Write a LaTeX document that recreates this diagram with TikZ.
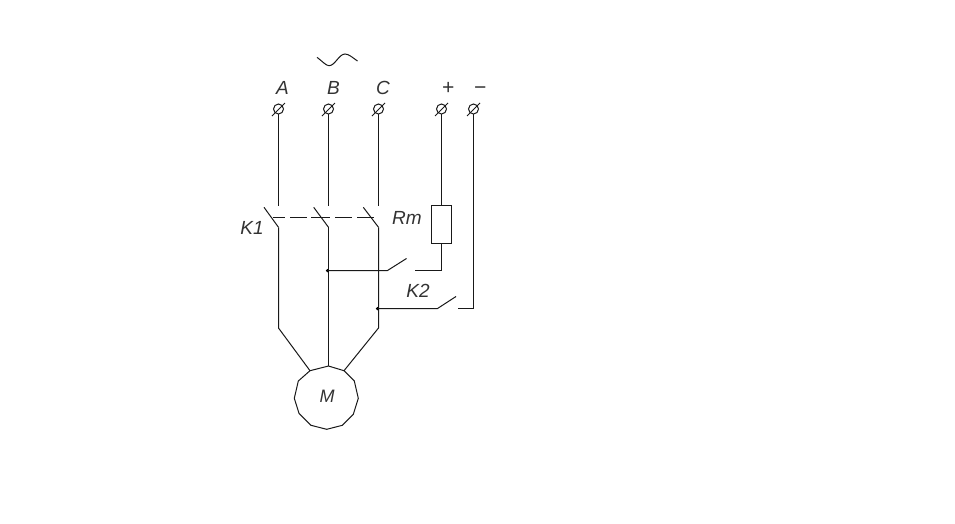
\documentclass[tikz,border=0pt]{standalone}
\usepackage{fontspec}
\setmainfont{Liberation Sans}
\usetikzlibrary{shapes.geometric,positioning,calc}
\tikzset{
    wire/.style={line width=1pt,black!90},
    term/.style={circle,draw,line width=1pt,black!90,inner sep=0pt,outer sep=0pt,minimum size=10pt},
    lbl/.style={font=\fontsize{19}{19}\selectfont\itshape,text=black!80,inner sep=0pt},
    dot/.style={circle,fill=black,inner sep=0pt,minimum size=3.5pt}
}
\begin{document}
\begin{tikzpicture}[x=1pt,y=-1pt]
    \useasboundingbox (0,0) rectangle (955,523);

    % Terminals
    \node[term] (termA) at (278.5,109) {};
    \node[term] (termB) at (328.5,109) {};
    \node[term] (termC) at (378.5,109) {};
    \node[term] (termP) at (441.5,109) {};
    \node[term] (termN) at (473.5,109) {};
    \foreach \t in {termA,termB,termC,termP,termN}
        \draw[wire] ($(\t)+(-6.5,7)$) -- ($(\t)+(6.5,-6)$);

    % Labels
    \node[lbl] (labA) at (282.5,88) {A};
    \node[lbl] (labB) at (333.5,88) {B};
    \node[lbl] (labC) at (383,88) {C};
    \node[lbl,font=\fontsize{21}{21}\selectfont\itshape] (labP) at (448,88) {+};
    \node[lbl,font=\fontsize{21}{21}\selectfont\itshape] (labN) at (480,91) {−};
    \node[lbl] (labK1) at (252,228) {K1};
    \node[lbl] (labRm) at (407,218) {Rm};
    \node[lbl] (labK2) at (418,291) {K2};

    % Mains sign
    \draw[wire] (317,57.3) .. controls (322,61) and (326,65.7) .. (329,65.7)
        .. controls (335,65.7) and (339,54) .. (345,54)
        .. controls (349,54) and (353,58) .. (357.5,61);

    % Motor
    \draw[wire] (328.5,366) coordinate (motB) -- (344,370.7) coordinate (motC) -- (354.3,381)
        -- (358.3,398.3) -- (353.3,414.3) -- (342.3,425.3) -- (326.7,429.3) -- (311,425.3)
        -- (299,413.3) -- (294.3,398.3) -- (298.3,381) -- (310,370.7) coordinate (motA) -- cycle;
    \node[lbl,font=\fontsize{18}{18}\selectfont\itshape] (labM) at (327,396.5) {M};

    % K1 contacts
    \coordinate (openA) at (278.5,205.5);
    \coordinate (openB) at (328.5,205.5);
    \coordinate (openC) at (378.5,205.5);
    \coordinate (bladeAt) at (264,207.3);
    \coordinate (bladeBt) at (313.7,207.3);
    \coordinate (bladeCt) at (363.3,207.3);
    \coordinate (bladeAb) at (278.5,227.3);
    \coordinate (bladeBb) at (328.5,227.3);
    \coordinate (bladeCb) at (378.5,227.3);
    \draw[wire] (bladeAt) -- (bladeAb);
    \draw[wire] (bladeBt) -- (bladeBb);
    \draw[wire] (bladeCt) -- (bladeCb);
    \draw[wire,dash pattern=on 12pt off 5pt on 17pt off 4pt on 19pt off 5pt on 17pt off 5pt on 17pt off 5pt] (273,217.5) -- (374,217.5);

    % Phases
    \coordinate (kneeA) at (278.5,328);
    \coordinate (kneeC) at (378.5,328);
    \draw[wire] (termA) -- (openA);
    \draw[wire] (termB) -- (openB);
    \draw[wire] (termC) -- (openC);
    \draw[wire] (bladeAb) -- (kneeA) -- (motA);
    \draw[wire] (bladeBb) -- (motB);
    \draw[wire] (bladeCb) -- (kneeC) -- (motC);

    % Starting resistor and its contact
    \node[draw,wire,rectangle,minimum width=20pt,minimum height=38pt,inner sep=0pt,outer sep=0pt] (Rm) at (441.5,224.5) {};
    \node[dot] (jointB) at (327.5,270.5) {};
    \coordinate (hingeR) at (387.5,270.5);
    \coordinate (tipR) at (406.5,258.5);
    \coordinate (fixR) at (414.5,270.5);
    \coordinate (cornerR) at (441.5,270.5);
    \draw[wire] (termP) -- (Rm.north);
    \draw[wire] (Rm.south) -- (cornerR) -- (fixR);
    \draw[wire] (jointB.center) -- (hingeR) -- (tipR);

    % K2 contact
    \node[dot] (jointC) at (377.5,308.5) {};
    \coordinate (hingeK) at (437.5,308.5);
    \coordinate (tipK) at (456,296.5);
    \coordinate (fixK) at (458,308.5);
    \coordinate (cornerK) at (473.5,308.5);
    \draw[wire] (termN) -- (cornerK) -- (fixK);
    \draw[wire] (jointC.center) -- (hingeK) -- (tipK);
\end{tikzpicture}
\end{document}
